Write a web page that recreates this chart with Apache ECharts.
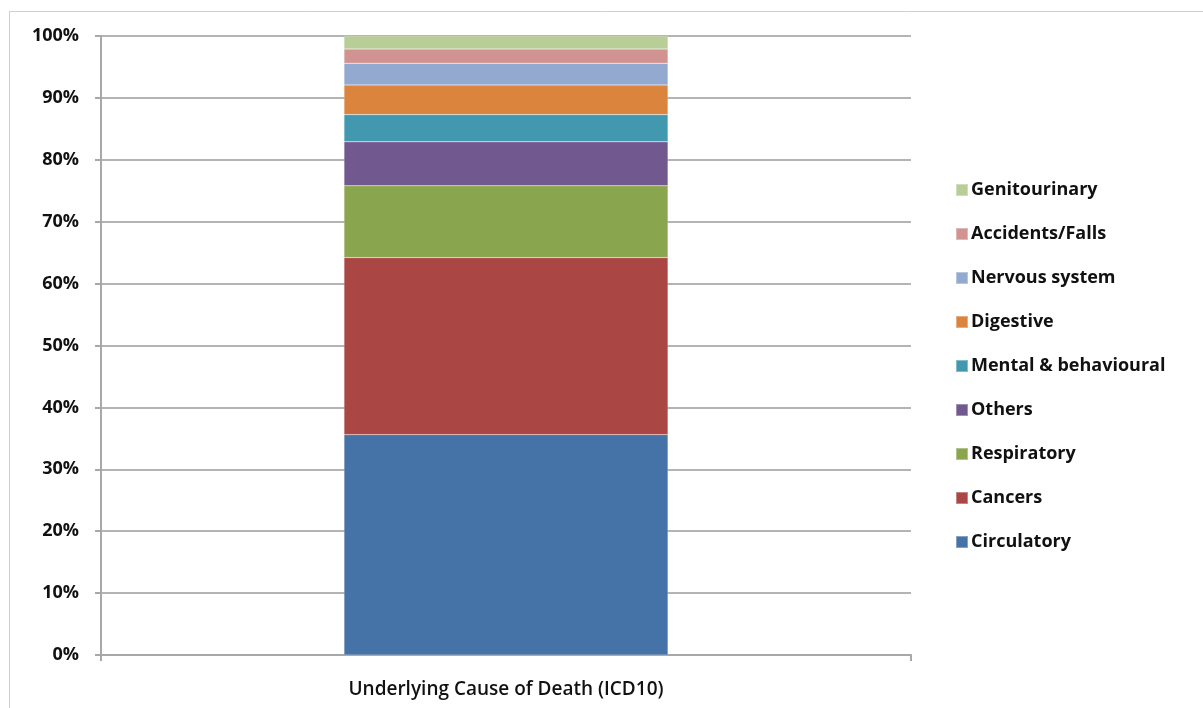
<!DOCTYPE html>
<html>
<head>
<meta charset="utf-8">
<script src="https://cdn.jsdelivr.net/npm/echarts@6/dist/echarts.min.js"></script>
<style>html,body{margin:0;padding:0;background:#fff}#c{width:1203px;height:708px}</style>
</head>
<body>
<div id="c"></div>
<script>
var categories = ['Underlying Cause of Death (ICD10)'];
var seriesNames = ['Circulatory','Cancers','Respiratory','Others','Mental & behavioural','Digestive','Nervous system','Accidents/Falls','Genitourinary'];
var seriesValues = [35.6, 28.6, 11.6, 7.1, 4.4, 4.8, 3.5, 2.3, 2.1];
var seriesColors = ['#4572A7','#AA4643','#89A54E','#71588F','#4198AF','#DB843D','#93A9CF','#D19392','#B9CD96'];
var yTicks = [0,10,20,30,40,50,60,70,80,90,100];

var font = '"Open Sans","Liberation Sans",sans-serif';
var chart = echarts.init(document.getElementById('c'), null, {renderer:'canvas'});
var series = seriesNames.map(function(n,i){
  return {
    name:n, type:'bar', stack:'all', barWidth:'40%',
    data:[seriesValues[i]],
    itemStyle:{color:seriesColors[i], borderColor:'rgba(255,255,255,0.35)', borderWidth:0.5},
    emphasis:{disabled:true}
  };
});
chart.setOption({
  animation:false,
  backgroundColor:'#fff',
  graphic:[{type:'rect', shape:{x:9.5,y:11.5,width:1300,height:800}, style:{fill:'none', stroke:'#cfcfcf', lineWidth:1}, silent:true}],
  grid:{left:101,right:292,top:36,bottom:53,containLabel:false},
  legend:{
    orient:'vertical', left:950, top:175,
    data:seriesNames.slice().reverse(),
    icon:'rect', itemWidth:12, itemHeight:12, itemGap:24,
    textStyle:{fontFamily:font, fontSize:18, fontWeight:'bold', color:'#111', lineHeight:20, padding:[0,0,0,-2]},
    selectedMode:false
  },
  xAxis:{
    type:'category', data:categories,
    axisLine:{lineStyle:{color:'#a8a8a8', width:2}},
    axisTick:{show:true, length:6, lineStyle:{color:'#a8a8a8', width:2}},
    axisLabel:{fontFamily:font, fontSize:19, fontWeight:600, color:'#111', margin:25}
  },
  yAxis:{
    type:'value', min:0, max:100, interval:10,
    axisLine:{show:true, lineStyle:{color:'#a8a8a8', width:2}},
    axisTick:{show:true, length:6, lineStyle:{color:'#a8a8a8', width:2}},
    splitLine:{lineStyle:{color:'#b4b4b4', width:2}},
    axisLabel:{fontFamily:font, fontSize:18, fontWeight:'bold', color:'#111', margin:22,
      formatter:function(v){return v+'%';}}
  },
  series:series
});
</script>
</body>
</html>
